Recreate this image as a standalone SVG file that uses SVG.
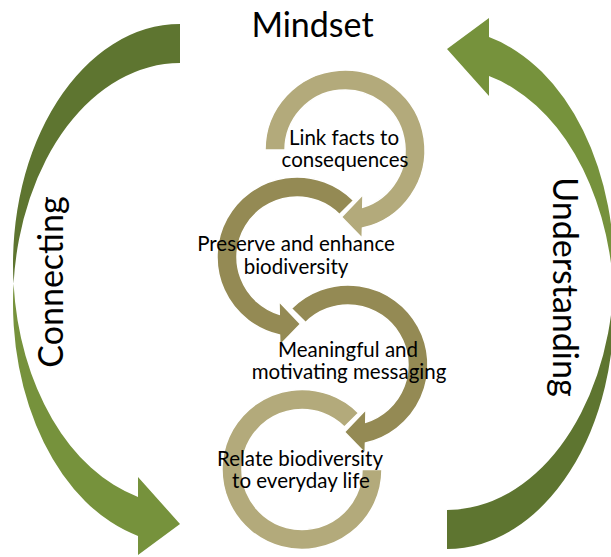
<svg xmlns="http://www.w3.org/2000/svg" width="611" height="557" viewBox="0 0 611 557">
<style>
.big{font-family:Lato,"Liberation Sans",sans-serif;font-size:34px;fill:#000}
.lbl{font-family:Lato,"Liberation Sans",sans-serif;font-size:20.5px;fill:#000;text-anchor:middle}
.light{fill:#B3AA7B;stroke:#fff;stroke-width:1.5}
.dark{fill:#948A54;stroke:#fff;stroke-width:1.5}
.gback{fill:#5E7530}
.gfront{fill:#76923C}
</style>
<defs>
<g id="curved">
<path class="gback" d="M180,24 A167,240.3 0 0 0 13.55,283.8 A167,240.3 0 0 1 180,63 Z"/>
<path class="gfront" d="M13.55,283.8 A167,240.3 0 0 0 138,496.9 L138,477 L180,524 L138,555 L138,535.9 A167,240.3 0 0 1 13.55,283.8 Z"/>
</g>
</defs>
<g id="connectors">
<g id="arrow-connecting"><use href="#curved"/></g>
<g id="arrow-understanding"><use href="#curved" transform="rotate(180 313.5 286.5)"/></g>
</g>
<g id="node-relate">
<path class="light" d="M358.57,412.93 A80,80 0 1 0 382,469.5 L362,469.5 A60,60 0 1 1 344.43,427.07 Z"/>
</g>
<g id="node-meaningful">
<path class="dark" d="M291.43,308.43 A80,80 0 1 1 365.45,443.07 L365.17,453.35 L344.49,431.91 L365.98,409.5 L365.74,422.32 A60,60 0 1 0 305.57,322.57 Z"/>
</g>
<g id="node-preserve">
<path class="dark" d="M353.57,200.43 A80,80 0 1 0 279.55,335.07 L279.83,345.35 L300.51,323.91 L279.02,301.5 L279.26,314.32 A60,60 0 1 1 339.43,214.57 Z"/>
</g>
<g id="node-link">
<path class="light" d="M265,150 A80,80 0 1 1 362.45,228.07 L362.17,238.35 L341.49,216.91 L362.98,194.5 L362.74,207.32 A60,60 0 1 0 285,150 Z"/>
</g>
<g id="labels">
<text class="lbl" x="344" y="145">Link facts to</text>
<text class="lbl" x="345" y="167">consequences</text>
<text class="lbl" x="296" y="251">Preserve and enhance</text>
<text class="lbl" x="296" y="274">biodiversity</text>
<text class="lbl" x="348" y="357">Meaningful and</text>
<text class="lbl" x="349" y="379">motivating messaging</text>
<text class="lbl" x="300" y="466">Relate biodiversity</text>
<text class="lbl" x="301" y="488">to everyday life</text>
</g>
<g id="titles">
<text class="big" x="312.5" y="36.7" text-anchor="middle">Mindset</text>
<text class="big" x="63" y="282" text-anchor="middle" transform="rotate(-90 63 282)">Connecting</text>
<text class="big" x="553" y="287" text-anchor="middle" transform="rotate(90 553 287)">Understanding</text>
</g>
</svg>
